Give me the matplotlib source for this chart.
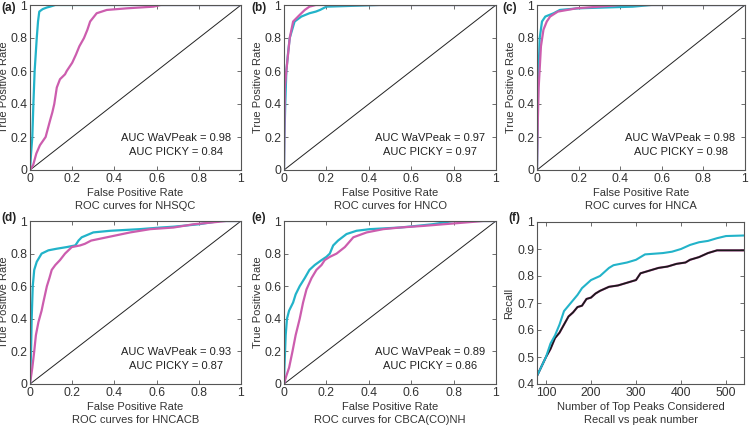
import numpy as np
import matplotlib.pyplot as plt

plt.rcParams["font.family"] = ["Liberation Sans", "DejaVu Sans"]
plt.rcParams["font.size"] = 8.0

CYAN = "#22b3c9"
MAGENTA = "#cc5dae"
FRAME = "#555555"

# ---- ROC curves (FPR, TPR) ----
a_wav_x = [0, 0.005, 0.011, 0.016, 0.022, 0.032, 0.038, 0.044, 0.06, 0.08, 0.095, 0.12, 1.0]
a_wav_y = [0, 0.1, 0.2, 0.4, 0.6, 0.8, 0.9, 0.96, 0.975, 0.985, 0.99, 1.0, 1.0]
a_pic_x = [0, 0.015, 0.03, 0.047, 0.074, 0.095, 0.106, 0.115, 0.127, 0.142, 0.166, 0.174,
           0.2, 0.218, 0.234, 0.256, 0.272, 0.285, 0.316, 0.364, 0.46, 0.585, 0.62, 1.0]
a_pic_y = [0, 0.03, 0.1, 0.15, 0.2, 0.3, 0.35, 0.4, 0.5, 0.55, 0.58, 0.6,
           0.65, 0.7, 0.75, 0.8, 0.85, 0.9, 0.95, 0.97, 0.98, 0.99, 1.0, 1.0]

b_wav_x = [0, 0.002, 0.006, 0.011, 0.02, 0.027, 0.05, 0.082, 0.12, 0.15, 0.17, 0.2, 0.45, 1.0]
b_wav_y = [0, 0.2, 0.4, 0.6, 0.72, 0.8, 0.9, 0.93, 0.95, 0.96, 0.97, 0.99, 1.0, 1.0]
b_pic_x = [0, 0.004, 0.011, 0.019, 0.027, 0.043, 0.074, 0.098, 0.12, 0.15, 1.0]
b_pic_y = [0, 0.5, 0.6, 0.7, 0.8, 0.9, 0.94, 0.97, 0.99, 1.0, 1.0]

c_wav_x = [0, 0.003, 0.005, 0.013, 0.024, 0.04, 0.08, 0.11, 0.2, 0.46, 0.55, 1.0]
c_wav_y = [0, 0.3, 0.5, 0.8, 0.9, 0.93, 0.95, 0.97, 0.98, 0.99, 1.0, 1.0]
c_pic_x = [0, 0.004, 0.008, 0.019, 0.031, 0.047, 0.063, 0.1, 0.19, 0.3, 0.4, 1.0]
c_pic_y = [0, 0.3, 0.5, 0.75, 0.85, 0.9, 0.93, 0.96, 0.98, 0.99, 1.0, 1.0]

d_wav_x = [0, 0.005, 0.008, 0.013, 0.02, 0.032, 0.055, 0.087, 0.127, 0.174, 0.214,
           0.22, 0.23, 0.245, 0.3, 0.38, 0.52, 0.62, 0.68, 0.8, 0.9, 1.0]
d_wav_y = [0, 0.2, 0.4, 0.6, 0.7, 0.75, 0.8, 0.82, 0.83, 0.84, 0.85,
           0.86, 0.88, 0.9, 0.93, 0.94, 0.95, 0.96, 0.965, 0.98, 1.0, 1.0]
d_pic_x = [0, 0.011, 0.02, 0.028, 0.04, 0.055, 0.063, 0.08, 0.092, 0.103, 0.12, 0.142,
           0.166, 0.198, 0.237, 0.26, 0.29, 0.364, 0.475, 0.57, 0.68, 0.775, 0.855, 0.93, 1.0]
d_pic_y = [0, 0.1, 0.2, 0.3, 0.38, 0.45, 0.5, 0.6, 0.65, 0.7, 0.73, 0.76,
           0.8, 0.84, 0.85, 0.86, 0.88, 0.9, 0.93, 0.95, 0.96, 0.98, 0.99, 1.0, 1.0]

e_wav_x = [0, 0.002, 0.008, 0.014, 0.024, 0.043, 0.055, 0.074, 0.098, 0.12, 0.145, 0.177,
           0.2, 0.216, 0.232, 0.255, 0.295, 0.342, 0.405, 0.547, 0.626, 0.7, 0.8, 1.0]
e_wav_y = [0, 0.1, 0.3, 0.4, 0.45, 0.5, 0.55, 0.6, 0.65, 0.7, 0.73, 0.76,
           0.78, 0.8, 0.85, 0.88, 0.92, 0.94, 0.95, 0.96, 0.97, 0.98, 1.0, 1.0]
e_pic_x = [0, 0.011, 0.024, 0.04, 0.055, 0.074, 0.09, 0.106, 0.13, 0.153, 0.177, 0.192,
           0.216, 0.248, 0.287, 0.327, 0.39, 0.468, 0.547, 0.658, 0.752, 0.847, 0.94, 1.0]
e_pic_y = [0, 0.05, 0.1, 0.2, 0.3, 0.4, 0.5, 0.58, 0.65, 0.7, 0.73, 0.76,
           0.78, 0.8, 0.84, 0.9, 0.93, 0.95, 0.96, 0.97, 0.98, 0.99, 1.0, 1.0]

panels = [
    ("NHSQC", a_wav_x, a_wav_y, a_pic_x, a_pic_y, "0.98", "0.84"),
    ("HNCO", b_wav_x, b_wav_y, b_pic_x, b_pic_y, "0.97", "0.97"),
    ("HNCA", c_wav_x, c_wav_y, c_pic_x, c_pic_y, "0.98", "0.98"),
    ("HNCACB", d_wav_x, d_wav_y, d_pic_x, d_pic_y, "0.93", "0.87"),
    ("CBCA(CO)NH", e_wav_x, e_wav_y, e_pic_x, e_pic_y, "0.89", "0.86"),
]

# ---- recall vs number of top peaks ----
f_n_wav = [80, 100, 110, 120, 130, 140, 150, 160, 170, 180, 190, 200, 220, 240, 250,
           280, 300, 310, 320, 360, 380, 400, 420, 440, 460, 480, 500, 540]
f_r_wav = [0.43, 0.50, 0.55, 0.58, 0.62, 0.67, 0.69, 0.71, 0.73, 0.755, 0.77, 0.785, 0.80,
           0.83, 0.84, 0.85, 0.86, 0.87, 0.88, 0.885, 0.89, 0.90, 0.915, 0.925, 0.93,
           0.94, 0.948, 0.95]
f_n_pic = [80, 100, 110, 120, 130, 140, 150, 160, 170, 180, 190, 200, 210, 220, 240,
           260, 280, 300, 310, 330, 350, 370, 390, 410, 420, 440, 460, 470, 480, 540]
f_r_pic = [0.43, 0.50, 0.53, 0.57, 0.59, 0.62, 0.65, 0.665, 0.685, 0.69, 0.715, 0.72,
           0.735, 0.745, 0.76, 0.765, 0.775, 0.785, 0.81, 0.82, 0.83, 0.835, 0.845, 0.85,
           0.86, 0.87, 0.885, 0.89, 0.895, 0.895]

W, H = 749, 425
fig = plt.figure(figsize=(W / 100, H / 100), dpi=100)

# axes boxes in pixels: left, top, right, bottom
boxes = [(30, 5, 241, 170), (284, 5, 496, 170), (537, 5, 745, 170),
         (30, 221, 241, 384), (284, 221, 496, 384), (537, 222, 744, 384)]
label_pos = [(1, 2), (251, 2), (502, 2), (1, 212), (251, 212), (508, 212)]


def make_ax(box):
    l, t, r, b = box
    ax = fig.add_axes([l / W, (H - b) / H, (r - l) / W, (b - t) / H])
    for s in ax.spines.values():
        s.set_color(FRAME)
        s.set_linewidth(0.8)
    ax.tick_params(direction="in", top=True, right=True, length=3, width=0.6,
                   color=FRAME, labelcolor="#333333", labelsize=8.8, pad=2)
    return ax


def fmt(v):
    return "%g" % v


ticks = [0, 0.2, 0.4, 0.6, 0.8, 1.0]
for i, (name, wx, wy, px, py, auc_w, auc_p) in enumerate(panels):
    ax = make_ax(boxes[i])
    ax.plot([0, 1], [0, 1], color="#222222", lw=0.7)
    ax.plot(wx, wy, color=CYAN, lw=1.6)
    ax.plot(px, py, color=MAGENTA, lw=1.6)
    ax.set_xlim(0, 1)
    ax.set_ylim(0, 1)
    ax.set_xticks(ticks)
    ax.set_yticks(ticks)
    ax.set_xticklabels([fmt(t) for t in ticks])
    ax.set_yticklabels([fmt(t) for t in ticks])
    ax.set_xlabel("False Positive Rate\nROC curves for " + name, linespacing=1.45,
                  color="#333333", labelpad=2)
    ax.set_ylabel("True Positive Rate", color="#333333", labelpad=1)
    ax.text(0.69, 0.195, "AUC WaVPeak = " + auc_w, transform=ax.transAxes,
            ha="center", va="center", color="#222222")
    ax.text(0.69, 0.11, "AUC PICKY = " + auc_p, transform=ax.transAxes,
            ha="center", va="center", color="#222222")

ax = make_ax(boxes[5])
ax.plot(f_n_pic, f_r_pic, color=MAGENTA, lw=1.6)
ax.plot(f_n_pic, f_r_pic, color="#1a1a1a", lw=1.3)
ax.plot(f_n_wav, f_r_wav, color=CYAN, lw=1.5)
ax.set_xlim(80, 540)
ax.set_ylim(0.4, 1.0)
ax.set_xticks([100, 200, 300, 400, 500])
ax.set_yticks([0.4, 0.5, 0.6, 0.7, 0.8, 0.9, 1.0])
ax.set_yticklabels(["0.4", "0.5", "0.6", "0.7", "0.8", "0.9", "1"])
ax.set_xlabel("Number of Top Peaks Considered\nRecall vs peak number", linespacing=1.45,
              color="#333333", labelpad=2)
ax.set_ylabel("Recall", color="#333333", labelpad=2)

for (x, y), lab in zip(label_pos, ["(a)", "(b)", "(c)", "(d)", "(e)", "(f)"]):
    fig.text(x / W, 1 - y / H, lab, ha="left", va="top", fontweight="bold",
             fontsize=8.5, color="#222222")

fig.savefig("out.png", dpi=100)
